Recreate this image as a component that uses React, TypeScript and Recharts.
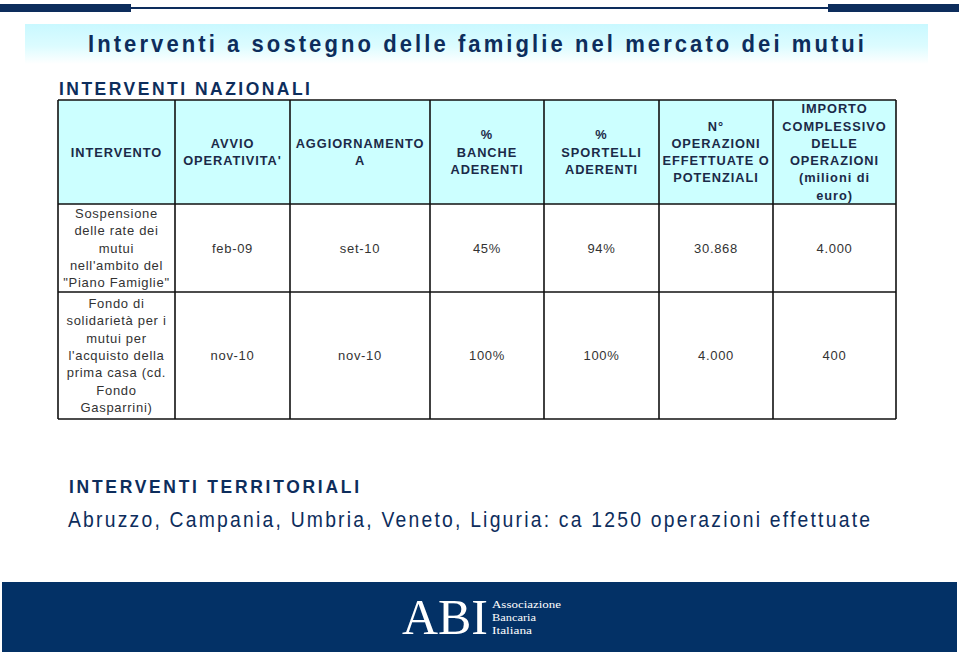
import React from 'react';
import { Surface, Layer, Rectangle } from 'recharts';

// testi e valori della slide
const title = 'Interventi a sostegno delle famiglie nel mercato dei mutui';
const sectionNational = 'INTERVENTI NAZIONALI';
const sectionTerritorial = 'INTERVENTI TERRITORIALI';
const territorialNote = 'Abruzzo, Campania, Umbria, Veneto, Liguria: ca 1250 operazioni effettuate';

const headers: string[][] = [
  ['INTERVENTO'],
  ['AVVIO', "OPERATIVITA'"],
  ['AGGIORNAMENTO', 'A'],
  ['%', 'BANCHE', 'ADERENTI'],
  ['%', 'SPORTELLI', 'ADERENTI'],
  ['N°', 'OPERAZIONI', 'EFFETTUATE O', 'POTENZIALI'],
  ['IMPORTO', 'COMPLESSIVO', 'DELLE', 'OPERAZIONI', '(milioni di', 'euro)'],
];

const interventi: string[][] = [
  ['Sospensione', 'delle rate dei', 'mutui', "nell'ambito del", '"Piano Famiglie"'],
  ['Fondo di', 'solidarietà per i', 'mutui per', "l'acquisto della", 'prima casa (cd.', 'Fondo', 'Gasparrini)'],
];
const avvio = ['feb-09', 'nov-10'];
const aggiornamento = ['set-10', 'nov-10'];
const bancheAderenti = ['45%', '100%'];
const sportelliAderenti = ['94%', '100%'];
const operazioni = ['30.868', '4.000'];
const importo = ['4.000', '400'];

const logoWords = ['Associazione', 'Bancaria', 'Italiana'];

const colX = [58, 175, 290, 430, 544, 659, 773, 896];
const rowY = [100, 204, 292, 419];

const NAVY = '#0d2d5c';
const LINE_H = 17.3;
const SANS = "'Liberation Sans', Arial, sans-serif";
const SERIF = "'Liberation Serif', 'DejaVu Serif', serif";

function Lines({ lines, cx, cy, bold, color }: { lines: string[]; cx: number; cy: number; bold?: boolean; color: string }) {
  const start = cy - ((lines.length - 1) * LINE_H) / 2;
  return (
    <text
      textAnchor="middle"
      fontFamily={SANS}
      fontSize={bold ? 12.8 : 13}
      fontWeight={bold ? 700 : 400}
      letterSpacing={bold ? 0.95 : 0.7}
      fill={color}
    >
      {lines.map((l, i) => (
        <tspan key={i} x={cx} y={start + i * LINE_H} dominantBaseline="central">
          {l}
        </tspan>
      ))}
    </text>
  );
}

// testo un po' stretto e spaziato come nella slide originale
function Narrow({ x, y, width, size, scale, bold, children }: { x: number; y: number; width: number; size: number; scale: number; bold?: boolean; children: string }) {
  return (
    <text
      transform={`translate(${x},${y}) scale(${scale},1)`}
      x={0}
      y={0}
      dominantBaseline="central"
      fontFamily={SANS}
      fontSize={size}
      fontWeight={bold ? 700 : 400}
      fill={NAVY}
      textLength={width / scale}
      lengthAdjust="spacing"
    >
      {children}
    </text>
  );
}

export default function App() {
  const bodyRows = interventi.map((iv, r) => [
    iv,
    [avvio[r]],
    [aggiornamento[r]],
    [bancheAderenti[r]],
    [sportelliAderenti[r]],
    [operazioni[r]],
    [importo[r]],
  ]);

  return (
    <div style={{ position: 'absolute', left: 0, top: 0, width: 959, height: 655, background: '#fff' }}>
      <Surface width={959} height={655} viewBox={{ x: 0, y: 0, width: 959, height: 655 }}>
        <defs>
          <linearGradient id="band" x1="0" y1="0" x2="0" y2="1">
            <stop offset="0%" stopColor="#c9f8ff" />
            <stop offset="55%" stopColor="#dcfcff" />
            <stop offset="100%" stopColor="#ffffff" />
          </linearGradient>
        </defs>

        {/* barra superiore */}
        <Rectangle x={0} y={4} width={131} height={8} fill={NAVY} />
        <Rectangle x={131} y={7} width={697} height={2} fill={NAVY} />
        <Rectangle x={828} y={4} width={131} height={8} fill={NAVY} />

        {/* titolo */}
        <Rectangle x={25} y={24} width={903} height={40} fill="url(#band)" />
        <Narrow x={88} y={44} width={776} size={24.5} scale={0.9} bold>
          {title}
        </Narrow>

        <Narrow x={59} y={88} width={251} size={19} scale={0.92} bold>
          {sectionNational}
        </Narrow>

        {/* tabella */}
        <Layer>
          {headers.map((h, c) => (
            <Rectangle
              key={`h-${c}`}
              x={colX[c]}
              y={rowY[0]}
              width={colX[c + 1] - colX[c]}
              height={rowY[1] - rowY[0]}
              fill="#ccffff"
            />
          ))}
          {headers.map((h, c) => (
            <Lines
              key={`ht-${c}`}
              lines={h}
              cx={(colX[c] + colX[c + 1]) / 2}
              cy={(rowY[0] + rowY[1]) / 2}
              bold
              color="#1b2a48"
            />
          ))}
          {bodyRows.map((row, r) =>
            row.map((cell, c) => (
              <Lines
                key={`b-${r}-${c}`}
                lines={cell}
                cx={(colX[c] + colX[c + 1]) / 2}
                cy={(rowY[r + 1] + rowY[r + 2]) / 2}
                color="#333333"
              />
            ))
          )}
          {colX.map((x, i) => (
            <line key={`v-${i}`} x1={x} x2={x} y1={rowY[0]} y2={rowY[3]} stroke="#111" strokeWidth={1.6} />
          ))}
          {rowY.map((y, i) => (
            <line key={`r-${i}`} x1={colX[0]} x2={colX[7]} y1={y} y2={y} stroke="#111" strokeWidth={1.6} />
          ))}
        </Layer>

        <Narrow x={69} y={486} width={290} size={19} scale={0.92} bold>
          {sectionTerritorial}
        </Narrow>
        <Narrow x={68} y={519} width={802} size={22.5} scale={0.86}>
          {territorialNote}
        </Narrow>

        {/* fascia inferiore con logo */}
        <Rectangle x={2} y={582} width={955} height={70} fill="#033166" />
        <text
          x={402}
          y={634}
          fontFamily={SERIF}
          fontSize={51}
          fill="#ffffff"
          textLength={86}
          lengthAdjust="spacingAndGlyphs"
        >
          ABI
        </text>
        {logoWords.map((w, i) => (
          <text
            key={w}
            x={492}
            y={608 + i * 13}
            fontFamily={SERIF}
            fontSize={11}
            fill="#ffffff"
            textLength={[69, 44, 40][i]}
            lengthAdjust="spacingAndGlyphs"
          >
            {w}
          </text>
        ))}
      </Surface>
    </div>
  );
}
